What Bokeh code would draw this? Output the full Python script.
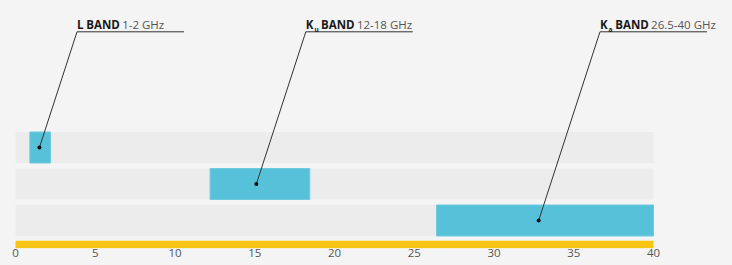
from bokeh.plotting import figure
from bokeh.models import Range1d, ColumnDataSource, FixedTicker
from bokeh.core.properties import value
from bokeh.embed import file_html
from bokeh.resources import INLINE

# ---- data ----
band_main = ["L", "K", "K"]
band_sub = ["", "u", "a"]
range_labels = ["1-2 GHz", "12-18 GHz", "26.5-40 GHz"]
band_start = [0.9, 12.2, 26.4]
band_end = [2.2, 18.45, 40.0]
marker_x = [1.5, 15.1, 32.8]
axis_min, axis_max = 0, 40
tick_values = [0, 5, 10, 15, 20, 25, 30, 35, 40]

# ---- layout constants (pixels) ----
PX = 15.95           # pixels per GHz
ROW = 36.5           # pixels per row
FW, FH = 732, 248
x0 = -15 / PX
y_top = -147 / ROW
y_bot = (FH - 147) / ROW
label_y = (31.3 - 147) / ROW
SLOPE = 0.325

rows = list(range(len(band_main)))
top_x = [m + SLOPE * (r - label_y) * ROW / PX for m, r in zip(marker_x, rows)]
line_end = [t + 107 / PX for t in top_x]
band_dx = [9.3 if s == "" else 15.3 for s in band_sub]
range_dx = [d + 35.8 for d in band_dx]

src = ColumnDataSource(dict(
    row=rows, start=band_start, end=band_end, mx=marker_x,
    tx=top_x, lx=line_end, ly=[label_y] * 3,
    main=band_main, sub=band_sub, band=["BAND"] * 3, rng=range_labels,
    bdx=band_dx, rdx=range_dx,
))

p = figure(frame_width=FW, frame_height=FH, min_border=0,
           x_range=Range1d(x0, x0 + FW / PX), y_range=Range1d(y_bot, y_top),
           output_backend="svg", toolbar_location=None,
           y_axis_location=None, background_fill_color="#f4f4f4",
           border_fill_color="#f4f4f4", outline_line_color=None)
p.grid.visible = False

# background rows
p.hbar(y="row", left=axis_min, right=axis_max, height=0.85, source=src,
       fill_color="#ececec", line_color=None)
# bands
p.hbar(y="row", left="start", right="end", height=0.85, source=src,
       fill_color="#56c1d9", line_color="#6fcbe0", line_width=1)
# yellow base
p.hbar(y=[2.658], left=axis_min, right=axis_max, height=0.203,
       fill_color="#f9c515", line_color=None)

# leader lines
p.segment(x0="mx", y0="row", x1="tx", y1="ly", source=src,
          line_color="#333333", line_width=1)
p.segment(x0="tx", y0="ly", x1="lx", y1="ly", source=src,
          line_color="#333333", line_width=1)
p.scatter(x="mx", y="row", source=src, size=4, fill_color="#111111",
          line_color=None)

font = value("Open Sans")
p.text(x="tx", y="ly", text="main", source=src, text_font=font,
       text_font_style="bold", text_font_size="11.5px", text_color="#1a1a1a",
       y_offset=-7, text_baseline="alphabetic", text_align="left")
p.text(x="tx", y="ly", text="sub", source=src, text_font=font,
       text_font_style="bold", text_font_size="6.5px", text_color="#1a1a1a",
       x_offset=8.6, y_offset=-2.5, text_baseline="alphabetic", text_align="left")
p.text(x="tx", y="ly", text="band", source=src, text_font=font,
       text_font_style="bold", text_font_size="11.5px", text_color="#1a1a1a",
       x_offset="bdx", y_offset=-7, text_baseline="alphabetic", text_align="left")
p.text(x="tx", y="ly", text="rng", source=src, text_font=font,
       text_font_size="11.5px", text_color="#555555",
       x_offset="rdx", y_offset=-7, text_baseline="alphabetic", text_align="left")

ax = p.xaxis[0]
ax.ticker = FixedTicker(ticks=tick_values)
ax.axis_line_color = None
ax.major_tick_line_color = None
ax.minor_tick_line_color = None
ax.major_tick_out = 0
ax.major_tick_in = 0
ax.major_label_standoff = 0
ax.major_label_text_font = "Open Sans"
ax.major_label_text_font_size = "11.5px"
ax.major_label_text_color = "#555555"

html = file_html(p, INLINE)
html = html.replace("<head>", "<head><style>body{background:#f4f4f4;}</style>", 1)
open("out.html", "w").write(html)
